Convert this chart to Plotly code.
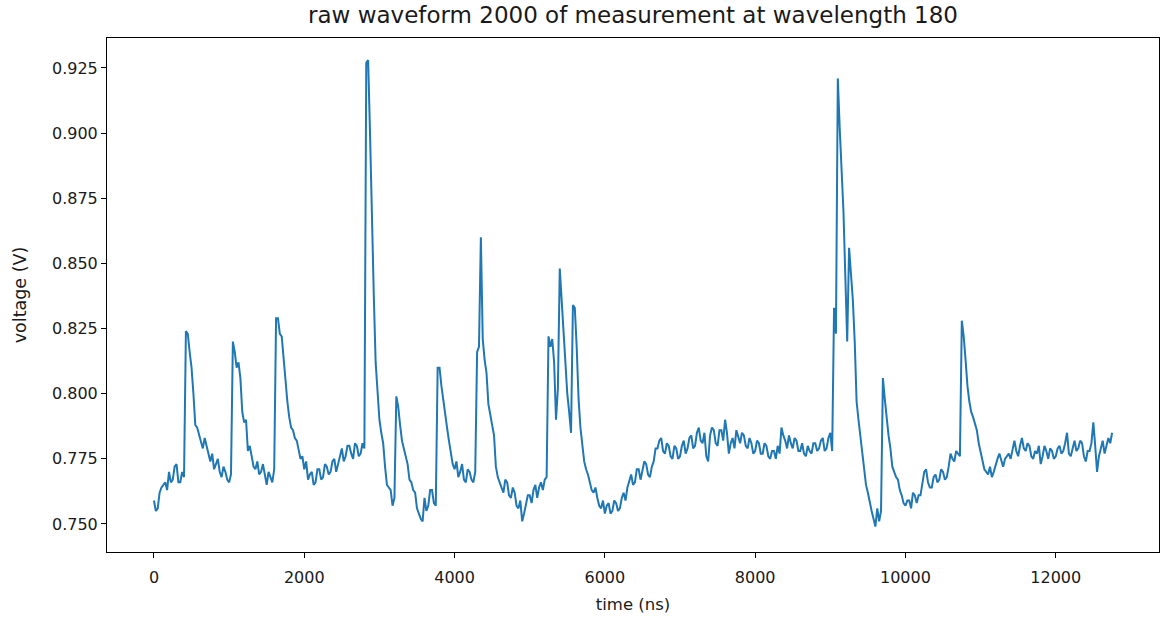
import plotly.graph_objects as go

# sample clock: one sample every 25 ns
sample_spacing_ns = 25

voltage_v = [
    0.759, 0.755, 0.756, 0.762, 0.764, 0.765, 0.766, 0.763, 0.770, 0.766,
    0.767, 0.772, 0.773, 0.766, 0.766, 0.770, 0.768, 0.824, 0.823, 0.816,
    0.810, 0.800, 0.788, 0.787, 0.784, 0.781, 0.779, 0.783, 0.780, 0.776,
    0.774, 0.777, 0.771, 0.773, 0.775, 0.770, 0.768, 0.772, 0.770, 0.767,
    0.766, 0.769, 0.820, 0.816, 0.810, 0.812, 0.806, 0.793, 0.789, 0.790,
    0.778, 0.780, 0.775, 0.772, 0.771, 0.774, 0.769, 0.770, 0.773, 0.768,
    0.765, 0.770, 0.768, 0.766, 0.771, 0.829, 0.829, 0.823, 0.822, 0.814,
    0.803, 0.797, 0.791, 0.787, 0.786, 0.783, 0.782, 0.779, 0.775, 0.776,
    0.771, 0.774, 0.767, 0.769, 0.770, 0.765, 0.766, 0.771, 0.771, 0.767,
    0.768, 0.773, 0.772, 0.769, 0.770, 0.774, 0.775, 0.770, 0.773, 0.777,
    0.779, 0.774, 0.776, 0.780, 0.780, 0.777, 0.775, 0.781, 0.780, 0.776,
    0.777, 0.781, 0.779, 0.927, 0.928, 0.900, 0.865, 0.838, 0.812, 0.801,
    0.790, 0.785, 0.781, 0.772, 0.765, 0.764, 0.763, 0.757, 0.760, 0.799,
    0.795, 0.788, 0.782, 0.779, 0.776, 0.773, 0.767, 0.766, 0.763, 0.762,
    0.756, 0.754, 0.752, 0.751, 0.760, 0.755, 0.757, 0.763, 0.763, 0.758,
    0.757, 0.810, 0.810, 0.803, 0.797, 0.791, 0.787, 0.782, 0.778, 0.773,
    0.771, 0.774, 0.768, 0.770, 0.773, 0.767, 0.766, 0.771, 0.770, 0.767,
    0.766, 0.770, 0.816, 0.818, 0.860, 0.821, 0.813, 0.808, 0.796, 0.792,
    0.787, 0.784, 0.772, 0.768, 0.766, 0.764, 0.762, 0.767, 0.766, 0.761,
    0.760, 0.764, 0.762, 0.757, 0.756, 0.759, 0.751, 0.754, 0.758, 0.761,
    0.761, 0.758, 0.763, 0.765, 0.760, 0.764, 0.766, 0.763, 0.767, 0.768,
    0.822, 0.818, 0.821, 0.812, 0.790, 0.802, 0.848, 0.835, 0.823, 0.812,
    0.800, 0.793, 0.785, 0.834, 0.833, 0.818, 0.798, 0.787, 0.779, 0.774,
    0.771, 0.769, 0.766, 0.763, 0.762, 0.764, 0.760, 0.757, 0.756, 0.759,
    0.754, 0.757, 0.758, 0.754, 0.755, 0.759, 0.758, 0.755, 0.756, 0.760,
    0.762, 0.759, 0.764, 0.767, 0.769, 0.765, 0.766, 0.771, 0.771, 0.767,
    0.770, 0.774, 0.773, 0.769, 0.768, 0.772, 0.774, 0.779, 0.779, 0.782,
    0.783, 0.778, 0.777, 0.781, 0.780, 0.776, 0.775, 0.780, 0.779, 0.775,
    0.776, 0.780, 0.782, 0.777, 0.779, 0.783, 0.784, 0.779, 0.780, 0.785,
    0.787, 0.782, 0.781, 0.785, 0.776, 0.774, 0.784, 0.787, 0.786, 0.781,
    0.780, 0.786, 0.786, 0.782, 0.790, 0.785, 0.777, 0.781, 0.783, 0.779,
    0.786, 0.783, 0.781, 0.785, 0.784, 0.780, 0.779, 0.783, 0.781, 0.777,
    0.778, 0.782, 0.781, 0.777, 0.777, 0.781, 0.780, 0.776, 0.775, 0.778,
    0.778, 0.775, 0.780, 0.777, 0.787, 0.784, 0.782, 0.779, 0.784, 0.781,
    0.779, 0.783, 0.782, 0.778, 0.778, 0.781, 0.777, 0.776, 0.780, 0.778,
    0.777, 0.781, 0.781, 0.778, 0.779, 0.782, 0.783, 0.778, 0.779, 0.783,
    0.785, 0.778, 0.833, 0.823, 0.921, 0.902, 0.885, 0.870, 0.845, 0.820,
    0.856, 0.845, 0.836, 0.820, 0.797, 0.790, 0.784, 0.777, 0.771, 0.765,
    0.762, 0.758, 0.755, 0.752, 0.749, 0.756, 0.751, 0.755, 0.806, 0.798,
    0.790, 0.784, 0.779, 0.772, 0.770, 0.768, 0.767, 0.763, 0.761, 0.758,
    0.757, 0.759, 0.759, 0.756, 0.762, 0.761, 0.758, 0.761, 0.761, 0.765,
    0.770, 0.771, 0.766, 0.764, 0.764, 0.768, 0.769, 0.766, 0.767, 0.771,
    0.770, 0.767, 0.768, 0.772, 0.777, 0.775, 0.774, 0.778, 0.777, 0.776,
    0.828, 0.822, 0.813, 0.803, 0.797, 0.793, 0.791, 0.788, 0.786, 0.781,
    0.778, 0.774, 0.771, 0.770, 0.769, 0.772, 0.768, 0.770, 0.773, 0.775,
    0.777, 0.774, 0.772, 0.775, 0.776, 0.777, 0.775, 0.779, 0.782, 0.778,
    0.776, 0.780, 0.783, 0.779, 0.778, 0.781, 0.780, 0.776, 0.775, 0.778,
    0.777, 0.780, 0.773, 0.776, 0.780, 0.778, 0.775, 0.779, 0.778, 0.775,
    0.776, 0.779, 0.780, 0.777, 0.778, 0.781, 0.785, 0.777, 0.776, 0.779,
    0.782, 0.778, 0.779, 0.782, 0.781, 0.776, 0.774, 0.778, 0.778, 0.781,
    0.789, 0.780, 0.770, 0.776, 0.779, 0.782, 0.777, 0.780, 0.783, 0.781,
    0.785,
]
time_ns = [i * sample_spacing_ns for i in range(len(voltage_v))]

x_ticks = [0, 2000, 4000, 6000, 8000, 10000, 12000]
y_ticks = [0.750, 0.775, 0.800, 0.825, 0.850, 0.875, 0.900, 0.925]

title_text = "raw waveform 2000 of measurement at wavelength 180"
x_label = "time (ns)"
y_label = "voltage (V)"

font_family = "DejaVu Sans"
text_color = "#1a1a1a"

fig = go.Figure()
fig.add_trace(go.Scatter(
    x=time_ns, y=voltage_v, mode="lines",
    line=dict(color="#1f77b4", width=2),
    showlegend=False,
))

axis_common = dict(
    showline=True, linecolor="black", linewidth=1, mirror=True,
    ticks="outside", ticklen=5, tickwidth=1, tickcolor="black",
    showgrid=False, zeroline=False, automargin=False,
    tickfont=dict(family=font_family, size=16, color=text_color),
)

fig.update_layout(
    width=1162, height=618,
    margin=dict(l=107, r=3, t=38, b=66),
    paper_bgcolor="white", plot_bgcolor="white",
    title=dict(text=title_text, x=0.5, xref="paper", xanchor="center",
               y=1 - 15 / 618, yref="container", yanchor="middle",
               font=dict(family=font_family, size=23, color=text_color)),
    xaxis=dict(range=[-625, 13374], tickvals=x_ticks,
               ticktext=[str(v) for v in x_ticks],
               ticklabelstandoff=6,
               title=dict(text=x_label, standoff=12,
                          font=dict(family=font_family, size=16.5, color=text_color)),
               **axis_common),
    yaxis=dict(range=[0.73925, 0.93651], tickvals=y_ticks,
               ticktext=[f"{v:.3f}" for v in y_ticks],
               title=dict(text=y_label, standoff=20,
                          font=dict(family=font_family, size=17.5, color=text_color)),
               **axis_common),
)

fig.write_html("out.html")
